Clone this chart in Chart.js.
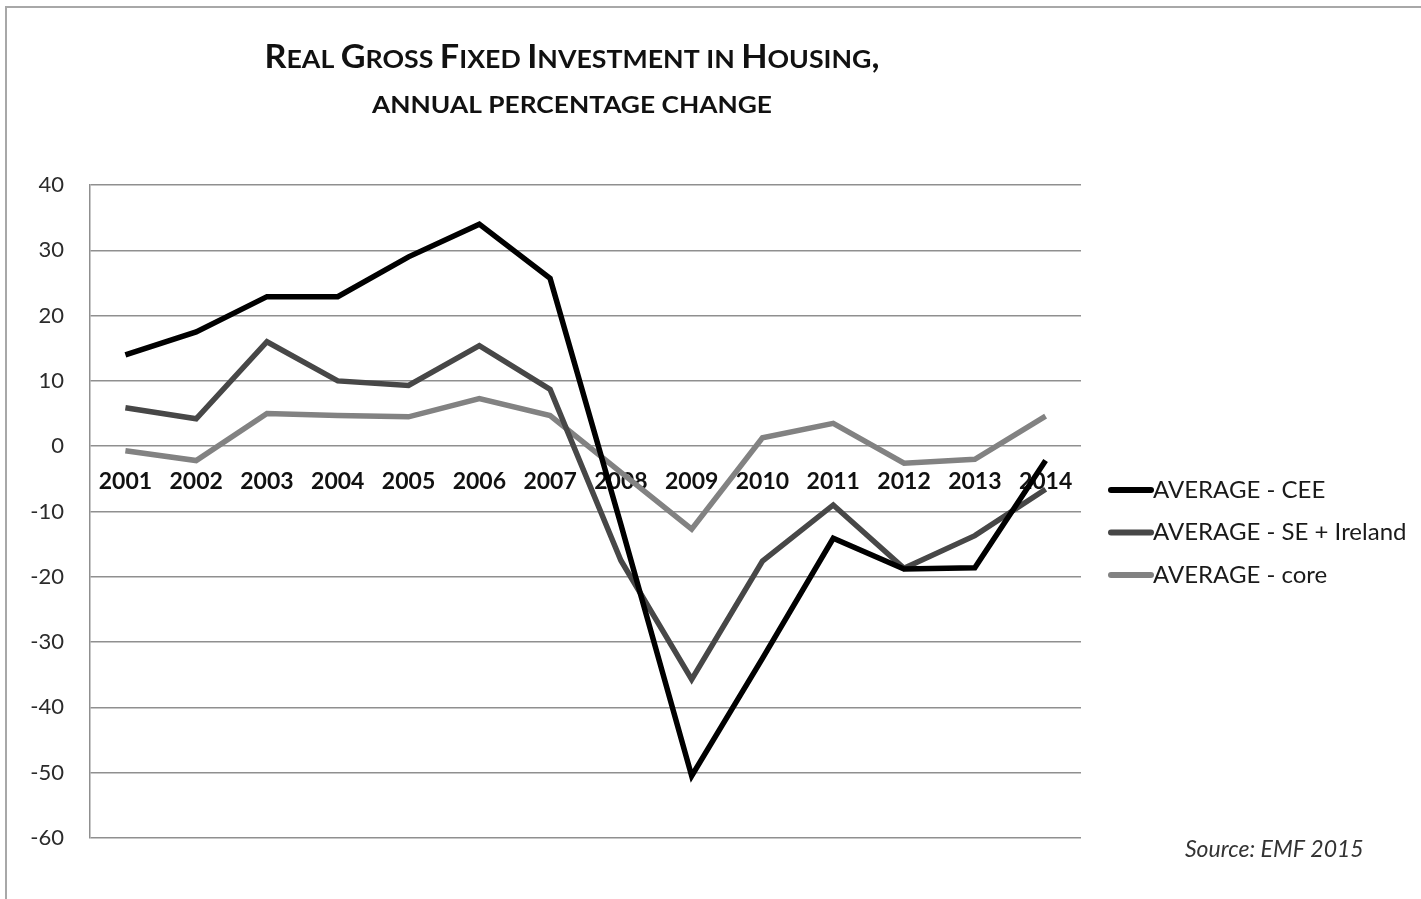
<!DOCTYPE html>
<html>
<head>
<meta charset="utf-8">
<script src="https://cdn.jsdelivr.net/npm/chart.js@4"></script>
<style>
  html, body { margin: 0; padding: 0; background: #fff; }
  #chart { display: block; }
</style>
</head>
<body>
<canvas id="chart" width="1421" height="899"></canvas>
<script>
// Real gross fixed investment in housing, annual % change
const years = ['2001', '2002', '2003', '2004', '2005', '2006', '2007',
               '2008', '2009', '2010', '2011', '2012', '2013', '2014'];
const avgCEE = [14, 17.5, 22.9, 22.9, 29, 34, 25.7, -12, -50.5, -32.5, -14.1, -18.8, -18.6, -2.2];
const avgSE = [5.9, 4.2, 16, 10, 9.3, 15.4, 8.7, -17.5, -35.7, -17.6, -9, -18.7, -13.7, -6.6];
const avgCore = [-0.7, -2.2, 5, 4.7, 4.5, 7.3, 4.7, -4, -12.7, 1.3, 3.5, -2.6, -2, 4.6];
const seriesNames = ['AVERAGE - CEE', 'AVERAGE - SE + Ireland', 'AVERAGE - core'];
const seriesColors = ['#000000', '#474747', '#828282'];
const titleLines = ['Real Gross Fixed Investment in Housing,', 'annual percentage change'];
const sourceNote = 'Source: EMF 2015';

const fontFamily = 'Lato, "Open Sans", sans-serif';

// draws text in small caps (capitals big, lower case as smaller capitals), centred, squeezed to a width
function smallCaps(ctx, text, cx, baseline, bigSize, smallSize, width) {
    const runs = [];
    for (const ch of text) {
        const big = ch !== ch.toLowerCase() || !/[a-z]/i.test(ch) && ch !== ' ';
        const size = big ? bigSize : smallSize;
        const last = runs[runs.length - 1];
        if (last && last.size === size) last.text += ch.toUpperCase();
        else runs.push({ size: size, text: ch.toUpperCase() });
    }
    let total = 0;
    runs.forEach(r => {
        ctx.font = 'bold ' + r.size + 'px ' + fontFamily;
        r.w = ctx.measureText(r.text).width;
        total += r.w;
    });
    const sx = width / total;
    ctx.save();
    ctx.translate(cx - width / 2, baseline);
    ctx.scale(sx, 1);
    let x = 0;
    runs.forEach(r => {
        ctx.font = 'bold ' + r.size + 'px ' + fontFamily;
        ctx.fillText(r.text, x, 0);
        x += r.w;
    });
    ctx.restore();
}

// title, legend, source and frame drawn by hand
const decorations = {
    id: 'decorations',
    beforeDraw(chart) {
        const ctx = chart.ctx;
        ctx.save();
        ctx.strokeStyle = '#a8a8a8';
        ctx.lineWidth = 2;
        ctx.beginPath();
        ctx.moveTo(6, 899);
        ctx.lineTo(6, 7);
        ctx.lineTo(1421, 7);
        ctx.stroke();
        ctx.restore();
    },
    afterDraw(chart) {
        const ctx = chart.ctx;
        ctx.save();

        // Title
        ctx.fillStyle = '#111';
        ctx.textAlign = 'left';
        ctx.textBaseline = 'alphabetic';
        smallCaps(ctx, titleLines[0], 572, 68, 32, 25, 615);
        smallCaps(ctx, titleLines[1], 572, 113, 32, 22, 400);

        // Legend
        ctx.textBaseline = 'middle';
        ctx.font = '24px ' + fontFamily;
        chart.data.datasets.forEach((ds, i) => {
            const y = 490 + i * 42.5;
            ctx.strokeStyle = ds.borderColor;
            ctx.lineWidth = 6;
            ctx.lineCap = 'round';
            ctx.beginPath();
            ctx.moveTo(1111, y);
            ctx.lineTo(1151, y);
            ctx.stroke();
            ctx.fillStyle = '#1a1a1a';
            ctx.fillText(ds.label, 1153, y);
        });

        // Source
        ctx.font = 'italic 23px ' + fontFamily;
        ctx.fillStyle = '#333';
        ctx.textBaseline = 'alphabetic';
        ctx.fillText(sourceNote, 1185, 857);

        ctx.restore();
    }
};

const chart = new Chart(document.getElementById('chart'), {
    type: 'line',
    data: {
        labels: years,
        datasets: [
            { label: seriesNames[0], data: avgCEE, borderColor: seriesColors[0] },
            { label: seriesNames[1], data: avgSE, borderColor: seriesColors[1] },
            { label: seriesNames[2], data: avgCore, borderColor: seriesColors[2] }
        ]
    },
    options: {
        responsive: false,
        animation: false,
        devicePixelRatio: 1,
        layout: {
            padding: { left: 0, top: 185, right: 340, bottom: 61 }
        },
        elements: {
            line: { borderWidth: 5.5, tension: 0, borderJoinStyle: 'miter', borderCapStyle: 'butt' },
            point: { radius: 0, hoverRadius: 0 }
        },
        plugins: {
            legend: { display: false },
            title: { display: false },
            tooltip: { enabled: false }
        },
        scales: {
            x: {
                type: 'category',
                offset: true,
                position: { y: 0 },
                grid: { display: false },
                border: { display: false },
                ticks: {
                    autoSkip: false,
                    maxRotation: 0,
                    padding: 14,
                    color: '#111',
                    font: { family: fontFamily, size: 23, weight: 'bold' }
                }
            },
            y: {
                min: -60,
                max: 40,
                afterFit: (scale) => { scale.width = 90; },
                grid: { color: '#8f8f8f', lineWidth: 1.5, drawTicks: false },
                border: { display: true, color: '#8f8f8f', width: 1.5 },
                ticks: {
                    stepSize: 10,
                    padding: 26,
                    color: '#2b2b2b',
                    font: { family: fontFamily, size: 22 }
                }
            }
        }
    },
    plugins: [decorations]
});
</script>
</body>
</html>
